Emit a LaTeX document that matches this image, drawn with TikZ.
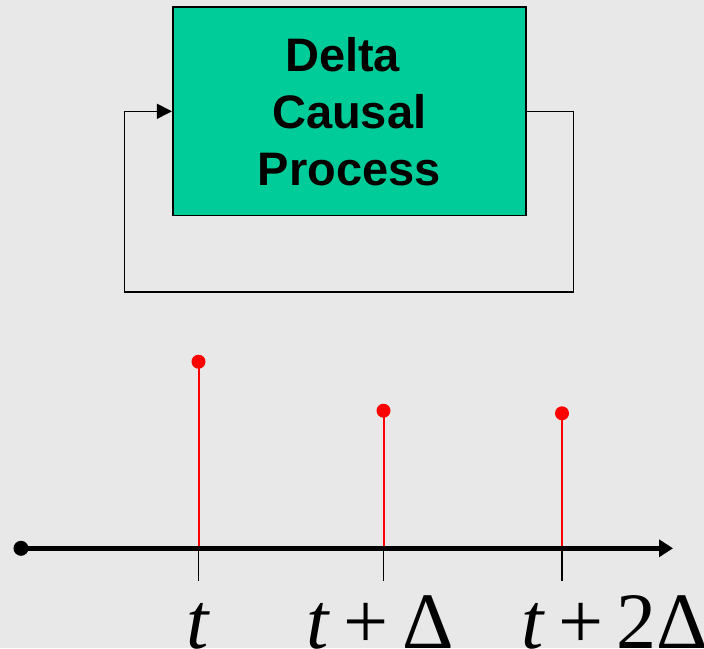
\documentclass[tikz,border=0pt]{standalone}
\usepackage{fontspec}
\setmainfont{Liberation Sans}
\newfontfamily\timesfont{Liberation Serif}
\usetikzlibrary{arrows.meta}
\definecolor{bgc}{RGB}{232,232,232}
\definecolor{procfill}{RGB}{0,204,153}
\tikzset{
  procbox/.style={draw=black, line width=1.6pt, fill=procfill, align=center,
    font=\fontsize{47}{57}\selectfont\bfseries, inner sep=0pt},
  fb/.style={draw=black, line width=1.5pt},
  axisline/.style={draw=black, line width=4.5pt, -{Triangle[length=14pt,width=17pt]}},
  stem/.style={draw=red, line width=2pt},
  reddot/.style={circle, fill=red, inner sep=0pt, minimum size=14pt},
  blackdot/.style={circle, fill=black, inner sep=0pt, minimum size=15pt},
  tick/.style={draw=black, line width=1.6pt},
  lab/.style={font=\timesfont\fontsize{80}{80}\selectfont, inner sep=0pt}
}
\begin{document}
\begin{tikzpicture}[x=1pt,y=-1pt]
\fill[bgc] (0,0) rectangle (704,648);
\useasboundingbox (0,0) rectangle (704,648);
% process box
\node[procbox, minimum width=353pt, minimum height=208.7pt] (proc) at (349.2,111.3)
  {Delta\hspace*{0.278em}\\Causal\\Process};
% feedback loop
\coordinate (cR) at (573.3,111.3);
\coordinate (cBR) at (573.3,292);
\coordinate (cBL) at (124.7,292);
\coordinate (cL) at (124.7,111.3);
\draw[fb] (proc.east) -- (cR) -- (cBR) -- (cBL) -- (cL);
\draw[fb, -{Triangle[length=15pt,width=15pt]}] (cL) -- (proc.west);
% time axis
\coordinate (b1) at (198.5,548.3);
\coordinate (b2) at (383.5,548.3);
\coordinate (b3) at (562,548.3);
\coordinate (k1) at (198.5,581);
\coordinate (k2) at (383.5,581);
\coordinate (k3) at (562,581);
\node[reddot] (d1) at (198.5,361.7) {};
\node[reddot] (d2) at (383.5,410.7) {};
\node[reddot] (d3) at (562,413.3) {};
\draw[stem] (b1) -- (d1.center);
\draw[stem] (b2) -- (d2.center);
\draw[stem] (b3) -- (d3.center);
\node[blackdot] (o) at (21,548.3) {};
\coordinate (axend) at (673,548.3);
\draw[axisline] (o.center) -- (axend);
\draw[tick] (b1) -- (k1);
\draw[tick] (b2) -- (k2);
\draw[tick] (b3) -- (k3);
% labels
\node[lab, anchor=base] (l1) at (198,648) {\textit{t}};
\node[lab, anchor=base] (l2) at (380,648) {\textit{t}\,+\,Δ};
\node[lab, anchor=base west] (l3) at (521,648) {\textit{t}\,+\,2Δ};
\end{tikzpicture}
\end{document}
